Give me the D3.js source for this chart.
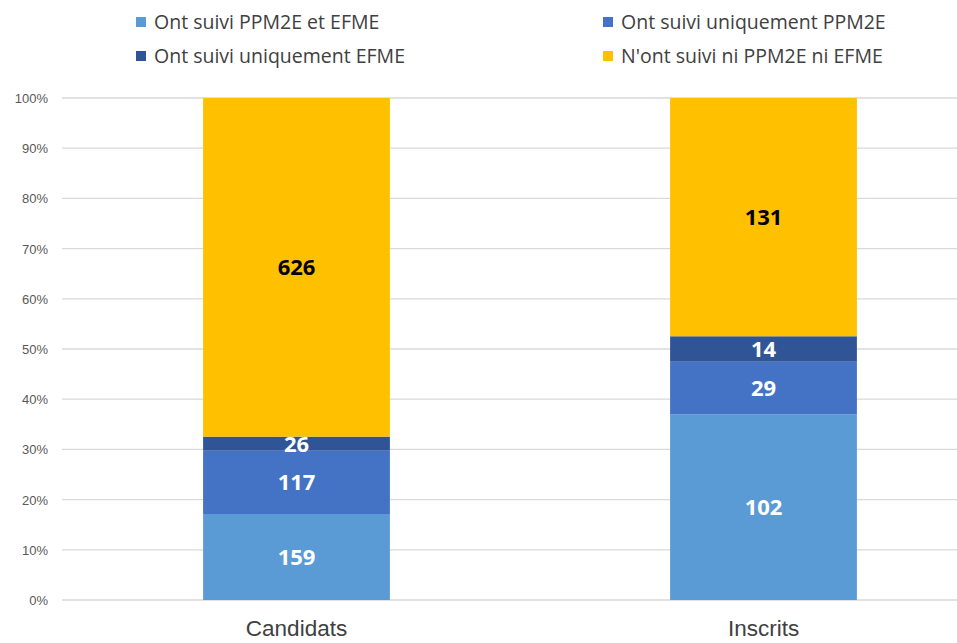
<!DOCTYPE html>
<html lang="fr">
<head>
<meta charset="utf-8">
<title>PPM2E / EFME</title>
<script src="https://cdn.jsdelivr.net/npm/d3@7"></script>
<style>
  body { margin: 0; background: #fff; }
  svg { display: block; font-family: "Open Sans", "Noto Sans", sans-serif; }
  .grid line { stroke: #d9d9d9; stroke-width: 1.3; }
  .yaxis text { fill: #595959; font-size: 13px; }
  .xaxis text { fill: #404040; font-size: 22.5px; }
  .legend text { fill: #404040; font-size: 19.5px; }
  .lbl { font-size: 22px; font-weight: bold; }
</style>
</head>
<body>
<div id="chart"></div>
<script>
// categories and series
var categories = ["Candidats", "Inscrits"];
var seriesNames = ["Ont suivi PPM2E et EFME", "Ont suivi uniquement PPM2E",
                   "Ont suivi uniquement EFME", "N'ont suivi ni PPM2E ni EFME"];
var seriesColors = ["#5B9BD5", "#4472C4", "#2F5597", "#FFC000"];
var labelColors = ["#ffffff", "#ffffff", "#ffffff", "#000000"];
// counts per series, one per category
var bothValues = [159, 102];
var ppm2eValues = [117, 29];
var efmeValues = [26, 14];
var noneValues = [626, 131];
var yTicks = [0, 0.1, 0.2, 0.3, 0.4, 0.5, 0.6, 0.7, 0.8, 0.9, 1];

var W = 957, H = 643;
var keys = ["both", "ppm2e", "efme", "none"];
var rows = categories.map(function(c, i) {
  var r = { cat: c, both: bothValues[i], ppm2e: ppm2eValues[i], efme: efmeValues[i], none: noneValues[i] };
  var tot = r.both + r.ppm2e + r.efme + r.none;
  keys.forEach(function(k) { r[k + "_p"] = r[k] / tot; });
  return r;
});

var svg = d3.select("#chart").append("svg").attr("width", W).attr("height", H);

var x = d3.scaleBand().domain(categories).range([63, 997]);
var barW = x.bandwidth() * 0.4;
var y = d3.scaleLinear().domain([0, 1]).range([600, 98]);

// gridlines
svg.append("g").attr("class", "grid")
  .selectAll("line").data(yTicks).enter().append("line")
  .attr("x1", 62).attr("x2", W)
  .attr("y1", function(d) { return y(d); }).attr("y2", function(d) { return y(d); });

// y axis labels
var yAxis = d3.axisLeft(y).tickValues(yTicks).tickFormat(d3.format(".0%")).tickSize(0).tickPadding(0);
svg.append("g").attr("class", "yaxis").attr("transform", "translate(48,0)").call(yAxis)
  .call(function(g) { g.select(".domain").remove(); })
  .selectAll("text").attr("dy", "0.35em");

// stacked bars
var stack = d3.stack().keys(keys.map(function(k) { return k + "_p"; }));
var stacked = stack(rows);

var layers = svg.append("g").selectAll("g").data(stacked).enter().append("g")
  .attr("fill", function(d, i) { return seriesColors[i]; });

layers.selectAll("rect").data(function(d) { return d; }).enter().append("rect")
  .attr("x", function(d) { return x(d.data.cat) + (x.bandwidth() - barW) / 2; })
  .attr("width", barW)
  .attr("y", function(d) { return y(d[1]); })
  .attr("height", function(d) { return y(d[0]) - y(d[1]); });

// value labels
stacked.forEach(function(layer, i) {
  var key = keys[i];
  svg.append("g").selectAll("text").data(layer).enter().append("text")
    .attr("class", "lbl")
    .attr("fill", labelColors[i])
    .attr("text-anchor", "middle")
    .attr("dy", "0.36em")
    .attr("x", function(d) { return x(d.data.cat) + x.bandwidth() / 2; })
    .attr("y", function(d) { return y((d[0] + d[1]) / 2); })
    .text(function(d) { return d.data[key]; });
});

// x axis labels
var xAxis = d3.axisBottom(x).tickSize(0).tickPadding(0);
svg.append("g").attr("class", "xaxis").attr("transform", "translate(0,636)").call(xAxis)
  .call(function(g) { g.select(".domain").remove(); })
  .selectAll("text").attr("dy", "0");

// legend
var legPos = [[136, 22], [603, 22], [136, 56], [603, 56]];
var legend = svg.append("g").attr("class", "legend").selectAll("g").data(seriesNames).enter().append("g")
  .attr("transform", function(d, i) { return "translate(" + legPos[i][0] + "," + legPos[i][1] + ")"; });
legend.append("rect").attr("x", 0).attr("y", -5).attr("width", 10).attr("height", 10)
  .attr("fill", function(d, i) { return seriesColors[i]; });
legend.append("text").attr("x", 18).attr("dy", "0.35em").text(function(d) { return d; });
</script>
</body>
</html>
